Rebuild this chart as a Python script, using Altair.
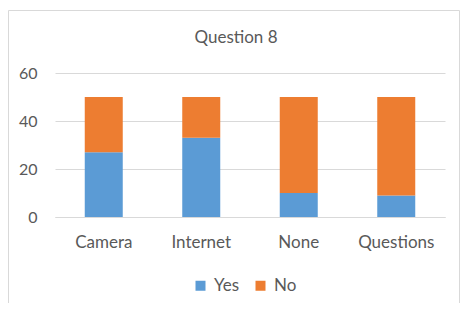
import altair as alt
import pandas as pd

categories = ["Camera", "Internet", "None", "Questions"]
yes_values = [27, 33, 10, 9]
no_values = [23, 17, 40, 41]
series = ["Yes", "No"]
colors = ["#5B9BD5", "#ED7D31"]
y_ticks = [0, 20, 40, 60]
chart_title = "Question 8"

rows = []
for c, y, n in zip(categories, yes_values, no_values):
    rows.append({"category": c, "series": "Yes", "value": y, "ord": 0})
    rows.append({"category": c, "series": "No", "value": n, "ord": 1})
df = pd.DataFrame(rows)

FONT = "Lato"
GRAY = "#595959"

bars = alt.Chart(df).mark_bar(size=38).encode(
    x=alt.X("category:N", sort=categories, title=None,
            axis=alt.Axis(labelAngle=0, ticks=False, domain=True, domainColor="#d9d9d9",
                          labelPadding=17, labelFontSize=17, labelColor=GRAY, labelFont=FONT)),
    y=alt.Y("value:Q", stack="zero", title=None,
            scale=alt.Scale(domain=[0, 60], nice=False),
            axis=alt.Axis(values=y_ticks, ticks=False, domain=False, gridColor="#d9d9d9",
                          labelPadding=18, labelFontSize=16, labelColor=GRAY, labelFont=FONT)),
    color=alt.Color("series:N", scale=alt.Scale(domain=series, range=colors),
                    legend=alt.Legend(title=None, orient="none", direction="horizontal",
                                      legendX=137, legendY=204, symbolType="square",
                                      symbolSize=100, symbolStrokeWidth=0, labelFontSize=17,
                                      labelColor=GRAY, labelFont=FONT, labelOffset=5,
                                      columnPadding=12)),
    order=alt.Order("ord:Q"),
)

one = alt.Data(values=[{"a": 1}])

frame = alt.Chart(one).mark_rect(
    fill=None, stroke="#d9d9d9", strokeWidth=1
).encode(
    x=alt.value(-46.5), x2=alt.value(404.5), y=alt.value(-62.5), y2=alt.value(320)
)

title = alt.Chart(one).mark_text(
    text=chart_title, font=FONT, fontSize=17, color=GRAY, align="center", baseline="alphabetic"
).encode(x=alt.value(181), y=alt.value(-30))

chart = alt.layer(frame, title, bars).properties(
    width=390, height=144,
    autosize=alt.AutoSizeParams(type="none"),
    padding={"left": 47, "top": 65, "right": 15, "bottom": 86},
).configure_view(stroke=None)

chart.save("out.html", embed_options={"renderer": "svg", "actions": False})
